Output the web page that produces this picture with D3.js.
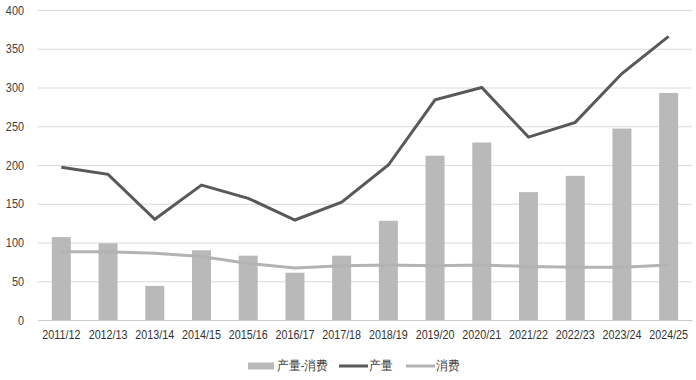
<!DOCTYPE html>
<html><head><meta charset="utf-8">
<script src="https://cdn.jsdelivr.net/npm/d3@7"></script>
<style>body{margin:0;background:#fff}svg{display:block}</style>
</head><body>
<svg id="chart" width="696" height="380"></svg>
<script>
const categories = ["2011/12","2012/13","2013/14","2014/15","2015/16","2016/17","2017/18","2018/19","2019/20","2020/21","2021/22","2022/23","2023/24","2024/25"];
const surplus = [107, 99, 44, 90, 83, 61, 83, 128, 212, 229, 165, 186, 247, 293];
const production = [197, 188, 130, 174, 157, 129, 152, 200, 284, 300, 236, 255, 318, 366];
const consumption = [88, 88, 86, 82, 73, 67, 70, 71, 70, 71, 69, 68, 68, 71];
const yTicks = [0, 50, 100, 150, 200, 250, 300, 350, 400];
const seriesNames = ["产量-消费", "产量", "消费"];

const svg = d3.select("#chart");
const font = "'Liberation Sans',Arial,sans-serif";
const m = {left: 38, right: 4, top: 10, bottom: 60};
const W = 696, H = 380;
const x = d3.scaleBand().domain(categories).range([m.left, W - m.right]).paddingInner(0).paddingOuter(0);
const y = d3.scaleLinear().domain([0, 400]).range([320, 10]);

function narrow(sel, f) {
  sel.each(function() {
    const w = this.getComputedTextLength();
    d3.select(this).attr("textLength", w * f).attr("lengthAdjust", "spacingAndGlyphs");
  });
}

// gridlines
const yAxis = d3.axisLeft(y).tickValues(yTicks).tickSize(-(W - m.right - m.left)).tickPadding(14);
const gy = svg.append("g").attr("transform", `translate(${m.left},0)`).call(yAxis);
gy.select(".domain").remove();
gy.selectAll(".tick line").attr("stroke", "#d9d9d9").attr("stroke-width", 1);
gy.selectAll(".tick text").attr("font-family", font).attr("font-size", 12.5).attr("fill", "#404040").call(narrow, 0.87);

// bars
const bw = 19;
svg.append("g").selectAll("rect").data(surplus).join("rect")
  .attr("x", (d, i) => x(categories[i]) + x.bandwidth() / 2 - bw / 2)
  .attr("width", bw)
  .attr("y", d => y(d))
  .attr("height", d => y(0) - y(d))
  .attr("fill", "#b9b9b9");

// x axis
const xAxis = d3.axisBottom(x).tickSize(0).tickPadding(10);
const gx = svg.append("g").attr("transform", `translate(0,${y(0)})`).call(xAxis);
gx.select(".domain").attr("stroke", "#c8c8c8");
gx.selectAll(".tick text").attr("font-family", font).attr("font-size", 12.5).attr("fill", "#333").call(narrow, 0.86);

const line = d3.line().x((d, i) => x(categories[i]) + x.bandwidth() / 2).y(d => y(d));
svg.append("path").datum(consumption).attr("d", line)
  .attr("fill", "none").attr("stroke", "#b3b3b3").attr("stroke-width", 3);
svg.append("path").datum(production).attr("d", line)
  .attr("fill", "none").attr("stroke", "#595959").attr("stroke-width", 3);

// legend
const lg = svg.append("g").attr("font-family", font).attr("font-size", 12.5).attr("fill", "#404040");
const ly = 366;
lg.append("rect").attr("x", 248).attr("y", ly - 3.5).attr("width", 26).attr("height", 7).attr("fill", "#b9b9b9");
lg.append("text").attr("x", 277).attr("y", ly).attr("dy", "0.35em").text(seriesNames[0]).call(narrow, 0.9);
lg.append("line").attr("x1", 339).attr("x2", 368).attr("y1", ly).attr("y2", ly).attr("stroke", "#595959").attr("stroke-width", 3);
lg.append("text").attr("x", 369).attr("y", ly).attr("dy", "0.35em").text(seriesNames[1]).call(narrow, 0.9);
lg.append("line").attr("x1", 406).attr("x2", 435).attr("y1", ly).attr("y2", ly).attr("stroke", "#b3b3b3").attr("stroke-width", 3);
lg.append("text").attr("x", 436).attr("y", ly).attr("dy", "0.35em").text(seriesNames[2]).call(narrow, 0.9);
</script>
</body></html>
